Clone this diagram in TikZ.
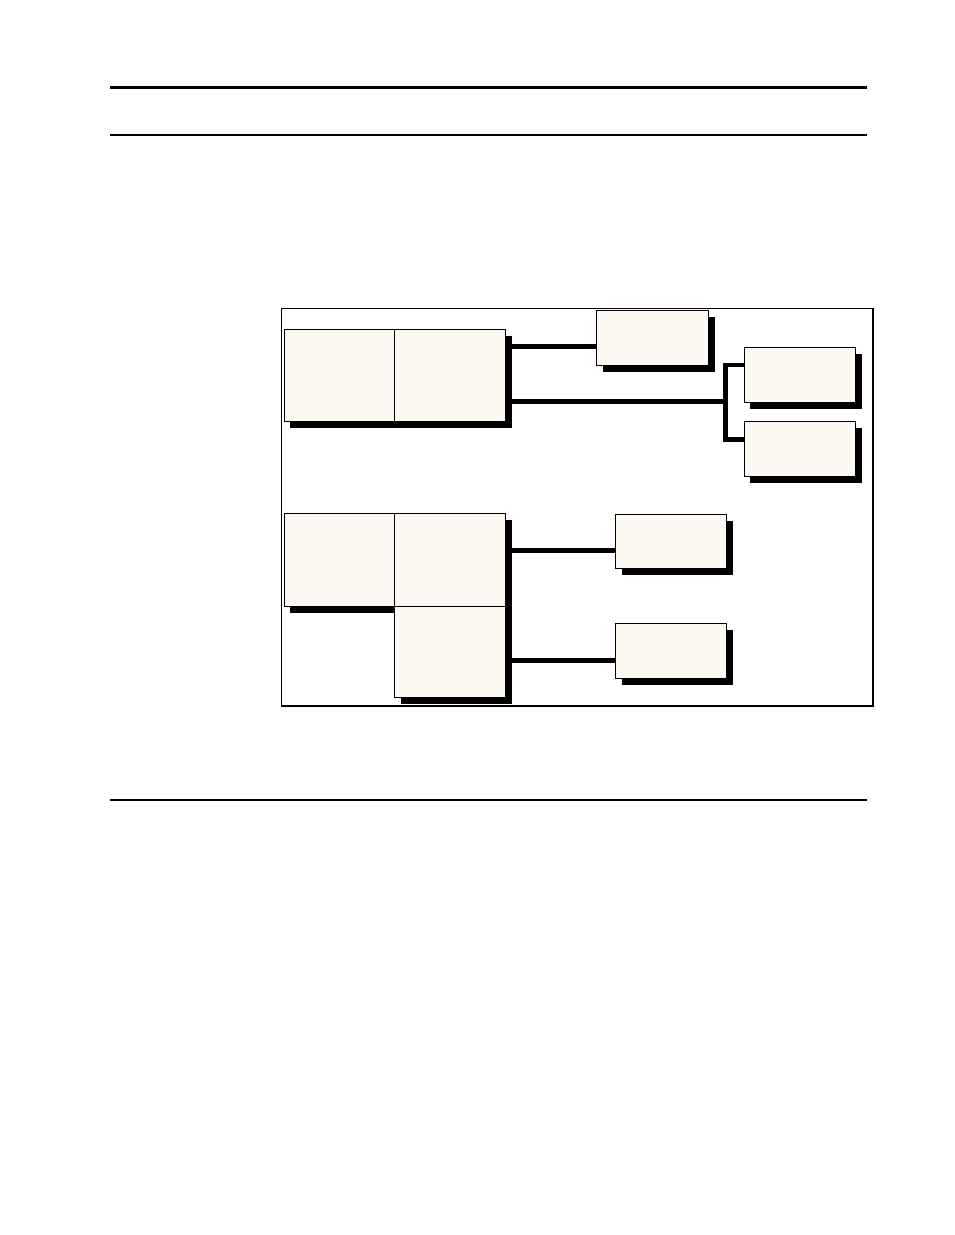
\documentclass[tikz,border=0pt]{standalone}
\usetikzlibrary{shadows}
\definecolor{boxfill}{RGB}{253,249,242}
\tikzset{
  box/.style={draw, line width=0.9pt, fill=boxfill, anchor=north west, inner sep=0pt,
    drop shadow={shadow xshift=6.5pt, shadow yshift=-6.5pt, fill=black, opacity=1}},
  link/.style={line width=4.5pt},
  rule/.style={line width=2pt}
}
\begin{document}
\begin{tikzpicture}[x=1pt, y=-1pt]
        % page size
        \useasboundingbox (0,0) rectangle (954,1235);
        % page rules
        \draw[rule, line width=3pt] (110,87) -- (867,87);
        \draw[rule] (110,134.5) -- (867,134.5);
        \draw[rule] (110,800) -- (867,800);
        % frame
        \draw[line width=1.2pt] (281.5,308.5) rectangle (873,706);

        % upper group
        \node[box, minimum width=111pt, minimum height=92pt] (hostA) at (283.5,329.3) {};
        \node[box, minimum width=110.4pt, minimum height=92pt] (hostB) at (394.4,329.3) {};
        \node[box, minimum width=111.4pt, minimum height=55pt] (unitC) at (596.3,310.3) {};
        \node[box, minimum width=111.7pt, minimum height=54.7pt] (unitD) at (743.5,347.3) {};
        \node[box, minimum width=111.7pt, minimum height=55pt] (unitE) at (743.5,421.3) {};

        % lower group
        \node[box, minimum width=111pt, minimum height=92.4pt] (hostF) at (283.5,513.3) {};
        \node[box, minimum width=110.4pt, minimum height=92.4pt] (hostG) at (394.4,513.3) {};
        \node[box, minimum width=110.4pt, minimum height=91.6pt] (hostH) at (394.4,605.7) {};
        \node[box, minimum width=110.4pt, minimum height=54pt] (unitI) at (615.3,514.3) {};
        \node[box, minimum width=110.4pt, minimum height=55pt] (unitJ) at (615.3,623.3) {};

        % branch point
        \coordinate (fork) at (725.7,401.7);

        % connectors
        \draw[link] (hostB.east |- 0,346.7) -- (unitC.west |- 0,346.7);
        \draw[link] (hostB.east |- fork) -- (fork);
        \draw[link] (unitD.west |- 0,365) -| (fork) |- (unitE.west |- 0,439.5);
        \draw[link] (hostG.east |- 0,550.3) -- (unitI.west |- 0,550.3);
        \draw[link] (hostH.east |- 0,660.3) -- (unitJ.west |- 0,660.3);
\end{tikzpicture}
\end{document}
